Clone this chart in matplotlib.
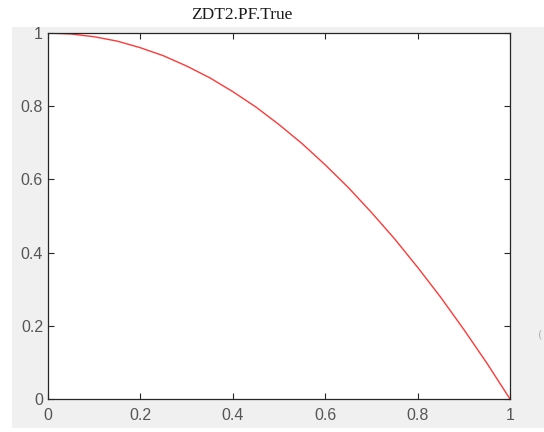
import matplotlib.pyplot as plt
from matplotlib.patches import Rectangle

# Pareto front points
f1 = [0.0, 0.05, 0.1, 0.15, 0.2, 0.25, 0.3, 0.35, 0.4, 0.45, 0.5,
      0.55, 0.6, 0.65, 0.7, 0.75, 0.8, 0.85, 0.9, 0.95, 1.0]
f2 = [1.0, 0.9975, 0.99, 0.978, 0.96, 0.938, 0.91, 0.878, 0.84, 0.798, 0.75,
      0.698, 0.64, 0.578, 0.51, 0.438, 0.36, 0.278, 0.19, 0.098, 0.0]
ticks = [0, 0.2, 0.4, 0.6, 0.8, 1]
tick_labels = ['0', '0.2', '0.4', '0.6', '0.8', '1']

fig = plt.figure(figsize=(5.44, 4.32), dpi=100, facecolor='white')

# grey matlab-style figure panel, kept behind the axes
fig.patches.append(Rectangle((0.022, 0.009), 0.978, 0.928, transform=fig.transFigure,
                             facecolor='#f0f0f0', edgecolor='none', zorder=-10))

ax = fig.add_axes([0.0882, 0.0764, 0.8493, 0.847])
ax.set_zorder(1)
ax.set_facecolor('white')
ax.plot(f1, f2, color='#ff3838', lw=1.0)
ax.set_xlim(0, 1)
ax.set_ylim(0, 1)
ax.set_xticks(ticks)
ax.set_xticklabels(tick_labels)
ax.set_yticks(ticks)
ax.set_yticklabels(tick_labels)
ax.tick_params(direction='in', top=True, right=True, length=4, width=0.8,
               color='#262626', labelcolor='#555555', labelsize=11.5)
ax.tick_params(axis='x', pad=6.5)
ax.tick_params(axis='y', pad=3.5)
for sp in ax.spines.values():
    sp.set_color('#262626')
    sp.set_linewidth(0.9)
for lab in ax.get_xticklabels() + ax.get_yticklabels():
    lab.set_fontfamily('Liberation Sans')

fig.text(0.445, 0.965, 'ZDT2.PF.True', ha='center', va='center',
         fontsize=12.5, family='Liberation Serif', color='#1a1a1a')
fig.text(0.993, 0.225, '(', ha='center', va='center', fontsize=8, color='#b0b0b0')

fig.savefig('out.png', dpi=100, facecolor='white')
